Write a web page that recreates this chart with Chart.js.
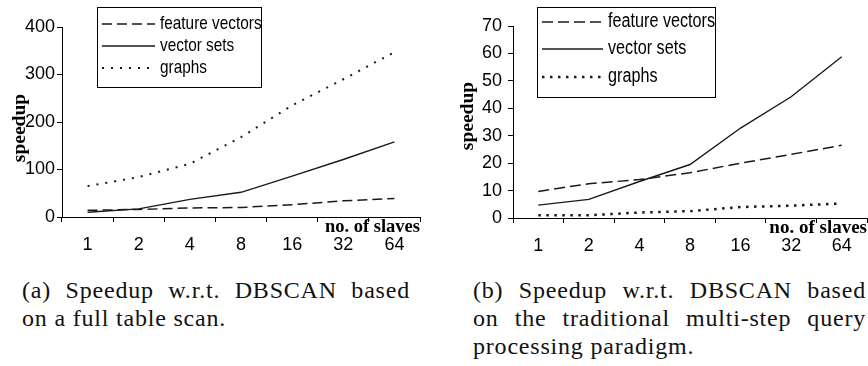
<!DOCTYPE html>
<html>
<head>
<meta charset="utf-8">
<script src="https://cdn.jsdelivr.net/npm/chart.js@4"></script>
<style>
  html, body { margin: 0; padding: 0; background: #fff; }
  body { width: 868px; height: 366px; position: relative; overflow: hidden; }
  canvas { position: absolute; top: 0; }
  #chartA { left: 0; }
  #chartB { left: 434px; }
  .caption { position: absolute; font-family: "Liberation Serif", "Times New Roman", serif; font-size: 24px; letter-spacing: 0.8px; color: #111; }
  .caption div { height: 28px; line-height: 28px; white-space: nowrap; }
  .caption .just { text-align: justify; text-align-last: justify; white-space: normal; }
</style>
</head>
<body>
<canvas id="chartA" width="434" height="260"></canvas>
<canvas id="chartB" width="434" height="260"></canvas>

<div class="caption" style="left:22px; top:276px; width:388px;">
  <div class="just">(a) Speedup w.r.t. DBSCAN based</div>
  <div>on a full table scan.</div>
</div>
<div class="caption" style="left:473px; top:276px; width:393px;">
  <div class="just">(b) Speedup w.r.t. DBSCAN based</div>
  <div class="just">on the traditional multi-step query</div>
  <div>processing paradigm.</div>
</div>

<script>
// number of slaves (x categories)
const slaves = ['1', '2', '4', '8', '16', '32', '64'];
const seriesNames = ['feature vectors', 'vector sets', 'graphs'];

// (a) speedup vs. full table scan
const featureA = [14, 16, 19, 20, 26, 34, 39];
const vectorSetA = [10, 17, 37, 52, 86, 121, 158];
const graphsA = [65, 84, 112, 168, 235, 290, 347];
const ticksA = [0, 100, 200, 300, 400];

// (b) speedup vs. multi-step query processing
const featureB = [9.7, 12.5, 14, 16.5, 20, 23.2, 26.5];
const vectorSetB = [4.7, 6.8, 13.3, 19.5, 32.8, 44.2, 58.8];
const graphsB = [1, 1, 2, 2.5, 4, 4.5, 5.3];
const ticksB = [0, 10, 20, 30, 40, 50, 60, 70];

const sansFont = '"Liberation Sans", Arial, sans-serif';
const serifFont = '"Liberation Serif", "Times New Roman", serif';
const ink = '#1a1a1a';

Chart.defaults.font.family = sansFont;
Chart.defaults.color = '#000';

// legend box, axis titles drawn on top of the plot
const decorPlugin = {
    id: 'decor',
    afterDatasetsDraw(chart, args, opts) {
        const ctx = chart.ctx;
        const area = chart.chartArea;
        const b = opts.box;
        ctx.save();

        // legend
        ctx.fillStyle = '#fff';
        ctx.fillRect(b.x, b.y, b.w, b.h);
        ctx.strokeStyle = '#000';
        ctx.lineWidth = 1;
        ctx.setLineDash([]);
        ctx.strokeRect(b.x + 0.5, b.y + 0.5, b.w, b.h);
        chart.data.datasets.forEach((ds, i) => {
            const y = opts.rows[i];
            ctx.beginPath();
            ctx.setLineDash(ds.borderDash || []);
            ctx.lineWidth = ds.borderWidth;
            ctx.strokeStyle = ds.borderColor;
            ctx.moveTo(b.x + 5, y);
            ctx.lineTo(b.x + 5 + opts.sample, y);
            ctx.stroke();
            ctx.setLineDash([]);
            // narrow face is not installed, so squeeze the regular one
            ctx.save();
            ctx.translate(b.x + opts.textX, y + opts.legendSize * 0.27);
            ctx.scale(0.83, 1);
            ctx.fillStyle = '#000';
            ctx.font = opts.legendSize + 'px ' + sansFont;
            ctx.textAlign = 'left';
            ctx.textBaseline = 'alphabetic';
            ctx.fillText(ds.label, 0, 0);
            ctx.restore();
        });

        // y axis title
        ctx.fillStyle = '#000';
        ctx.font = 'bold ' + opts.titleSize + 'px ' + serifFont;
        ctx.save();
        ctx.translate(opts.yTitle.x, opts.yTitle.y);
        ctx.rotate(-Math.PI / 2);
        ctx.textAlign = 'center';
        ctx.textBaseline = 'alphabetic';
        ctx.fillText('speedup', 0, 0);
        ctx.restore();

        // x axis title, sits between axis and tick labels
        ctx.font = 'bold ' + opts.xTitleSize + 'px ' + serifFont;
        ctx.textAlign = 'right';
        ctx.textBaseline = 'alphabetic';
        ctx.fillText('no. of slaves', area.right, area.bottom + opts.xTitleDrop);
        ctx.restore();
    }
};

function makeDatasets(fv, vs, gr, fvDash, grDash, grWidth) {
    return [{
        label: seriesNames[0],
        data: fv,
        borderColor: ink,
        borderWidth: 1.5,
        borderDash: fvDash
    }, {
        label: seriesNames[1],
        data: vs,
        borderColor: ink,
        borderWidth: 1.4,
        borderDash: []
    }, {
        label: seriesNames[2],
        data: gr,
        borderColor: ink,
        borderWidth: grWidth,
        borderDash: grDash
    }];
}

function makeChart(id, datasets, yTicks, layout, decor) {
    const ctx = document.getElementById(id).getContext('2d');
    return new Chart(ctx, {
        type: 'line',
        data: { labels: slaves, datasets },
        options: {
            responsive: false,
            animation: false,
            devicePixelRatio: 1,
            elements: {
                point: { radius: 0, hoverRadius: 0 },
                line: { tension: 0, borderCapStyle: 'butt' }
            },
            layout: { padding: layout.padding },
            plugins: {
                legend: { display: false },
                tooltip: { enabled: false },
                decor
            },
            scales: {
                x: {
                    type: 'category',
                    offset: true,
                    grid: { offset: true, drawOnChartArea: false, drawTicks: true, tickLength: 5, color: '#000' },
                    border: { display: true, color: '#000', width: 1 },
                    ticks: { font: { size: 18 }, color: '#000', padding: layout.xPad, autoSkip: false, maxRotation: 0 },
                    afterFit(scale) { scale.height = layout.xHeight; }
                },
                y: {
                    min: yTicks[0],
                    max: yTicks[yTicks.length - 1],
                    afterBuildTicks(scale) { scale.ticks = yTicks.map(v => ({ value: v })); },
                    grid: { drawOnChartArea: false, drawTicks: true, tickLength: 5, color: '#000' },
                    border: { display: true, color: '#000', width: 1 },
                    ticks: { font: { size: 18 }, color: '#000', padding: layout.yPad },
                    afterFit(scale) { scale.width = layout.yWidth; }
                }
            }
        },
        plugins: [decorPlugin]
    });
}

makeChart('chartA',
    makeDatasets(featureA, vectorSetA, graphsA, [10, 5], [2, 7], 2),
    ticksA,
    { padding: { left: 0, right: 14, top: 27, bottom: 0 }, xHeight: 43, yWidth: 62, xPad: 12, yPad: 2 },
    {
        box: { x: 97, y: 7, w: 164, h: 80 },
        rows: [24, 46, 68],
        sample: 53, textX: 63, legendSize: 18.5,
        titleSize: 19.5, yTitle: { x: 25, y: 128 },
        xTitleSize: 18.5, xTitleDrop: 15
    });

makeChart('chartB',
    makeDatasets(featureB, vectorSetB, graphsB, [11, 5], [2.5, 5.5], 2.5),
    ticksB,
    { padding: { left: 0, right: 1, top: 26, bottom: 0 }, xHeight: 42, yWidth: 79, xPad: 12, yPad: 6 },
    {
        box: { x: 103, y: 7, w: 178, h: 90 },
        rows: [22, 49, 77],
        sample: 61, textX: 71, legendSize: 19.5,
        titleSize: 19.5, yTitle: { x: 39, y: 116 },
        xTitleSize: 19, xTitleDrop: 15
    });
</script>
</body>
</html>
